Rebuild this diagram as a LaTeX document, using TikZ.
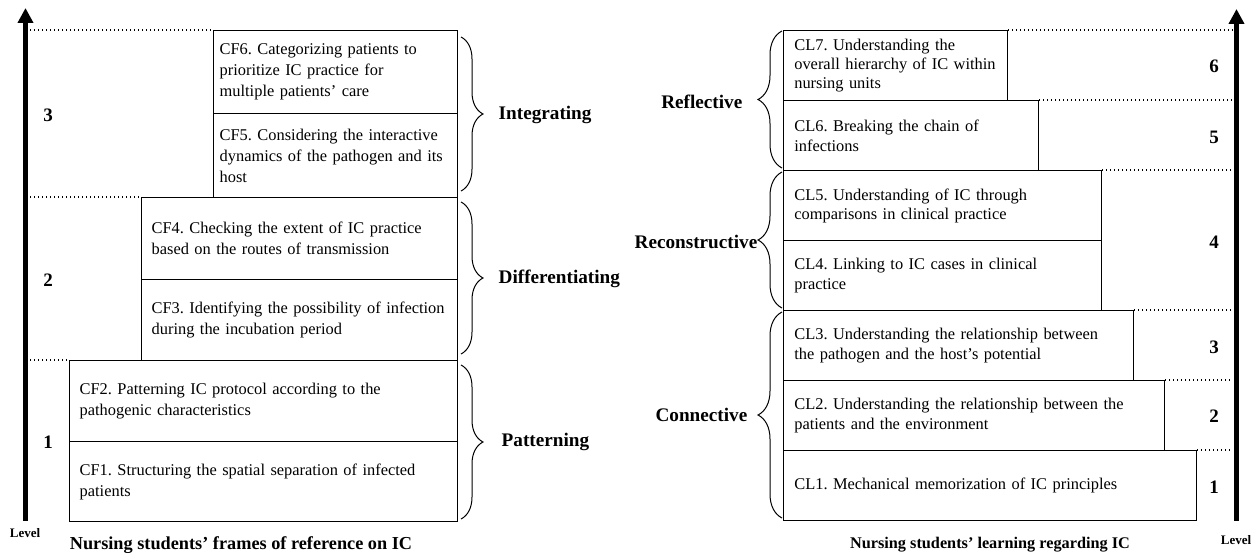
\documentclass[tikz,border=0pt]{standalone}
\usepackage{fontspec}
\setmainfont{Liberation Serif}
\usetikzlibrary{arrows.meta,decorations.pathreplacing}
\frenchspacing
\hyphenpenalty=10000
\begin{document}
\begin{tikzpicture}[x=0.75pt,y=-0.75pt,
  box/.style={draw,line width=1pt,anchor=north west,align=left,inner ysep=0pt,
    font=\fontsize{12.3}{15.8}\selectfont},
  boxR/.style={box,inner xsep=8pt,font=\fontsize{12.3}{14.5}\selectfont},
  lvl/.style={font=\fontsize{14.25}{16}\selectfont\bfseries},
  stage/.style={font=\fontsize{14.4}{16}\selectfont\bfseries},
  ttl/.style={font=\fontsize{13.7}{16}\selectfont\bfseries},
  lvlword/.style={font=\fontsize{9.75}{11}\selectfont\bfseries},
  dotline/.style={line width=0.8pt,dash pattern=on 0.8pt off 2.2pt},
  brc/.style={decorate,decoration={brace,amplitude=16.5pt},line width=0.75pt},
  brcR/.style={decorate,decoration={brace,amplitude=18pt},line width=0.75pt},
  levelarrow/.style={line width=3.75pt,-{Triangle[width=11.25pt,length=11.25pt]}},
]
\useasboundingbox (0,0) rectangle (1260,555);

% ---------------- left part ----------------
\coordinate (aLb) at (25.5,521);
\coordinate (aLt) at (25.5,8);
\coordinate (dL) at (30,0);
\draw[levelarrow] (aLb) -- (aLt);
\node[lvlword] (levL) at (25,533) {Level};

\node[box,inner xsep=4.5pt,minimum width=183pt,minimum height=62.25pt,text width=174pt] (cf6) at (213,30)
  {\mbox{CF6. Categorizing patients to}\\\mbox{prioritize IC practice for}\\\mbox{multiple patients’ care}};
\node[box,inner xsep=4.5pt,minimum width=183pt,minimum height=63pt,text width=174pt] (cf5) at (213,113)
  {\mbox{CF5. Considering the interactive}\\\mbox{dynamics of the pathogen and its}\\host};
\node[box,inner xsep=7.5pt,minimum width=237pt,minimum height=61.5pt,text width=222pt] (cf4) at (141,197)
  {\mbox{CF4. Checking the extent of IC practice}\\\mbox{based on the routes of transmission}};
\node[box,inner xsep=7.5pt,minimum width=237pt,minimum height=60.75pt,text width=222pt] (cf3) at (141,279)
  {\mbox{CF3. Identifying the possibility of infection}\\\mbox{during the incubation period}};
\node[box,inner xsep=7.5pt,minimum width=291pt,minimum height=60.75pt,text width=276pt] (cf2) at (69,360)
  {\mbox{CF2. Patterning IC protocol according to the}\\\mbox{pathogenic characteristics}};
\node[box,inner xsep=7.5pt,minimum width=291pt,minimum height=60pt,text width=276pt] (cf1) at (69,441)
  {\mbox{CF1. Structuring the spatial separation of infected}\\patients};

\draw[dotline] (cf6.north west -| dL) -- (cf6.north west);
\draw[dotline] (cf4.north west -| dL) -- (cf4.north west);
\draw[dotline] (cf2.north west -| dL) -- (cf2.north west);

\node[lvl] (l3) at (48,115) {3};
\node[lvl] (l2) at (48,280) {2};
\node[lvl] (l1) at (48,442) {1};

\draw[brc] (461,37) -- (461,191);
\draw[brc] (461,202) -- (461,354);
\draw[brc] (461,365) -- (461,519);
\node[stage,anchor=west] (integ) at (494,115) {Integrating};
\node[stage,anchor=west] (diff) at (494,279) {Differentiating};
\node[stage,anchor=west] (patt) at (497,442) {Patterning};

\node[ttl] (ttlL) at (241,545) {Nursing students’ frames of reference on IC};

% ---------------- right part ----------------
\coordinate (aRb) at (1236.5,521);
\coordinate (aRt) at (1236.5,9);
\coordinate (dR) at (1233,0);
\draw[levelarrow] (aRb) -- (aRt);
\node[lvlword] (levR) at (1236,540) {Level};

\node[boxR,minimum width=168pt,minimum height=52.5pt,text width=152pt] (cl7) at (783,30)
  {\mbox{CL7. Understanding the}\\\mbox{overall hierarchy of IC within}\\\mbox{nursing units}};
\node[boxR,minimum width=191.25pt,minimum height=52.5pt,text width=175.25pt] (cl6) at (783,100)
  {\mbox{CL6. Breaking the chain of}\\infections};
\node[boxR,minimum width=238.5pt,minimum height=52.5pt,text width=222.5pt] (cl5) at (783,170)
  {\mbox{CL5. Understanding of IC through}\\\mbox{comparisons in clinical practice}};
\node[boxR,minimum width=238.5pt,minimum height=52.5pt,text width=222.5pt] (cl4) at (783,240)
  {\mbox{CL4. Linking to IC cases in clinical}\\practice};
\node[boxR,minimum width=262.5pt,minimum height=52.5pt,text width=246.5pt] (cl3) at (783,310)
  {\mbox{CL3. Understanding the relationship between}\\\mbox{the pathogen and the host’s potential}};
\node[boxR,minimum width=285.75pt,minimum height=52.5pt,text width=269.75pt] (cl2) at (783,380)
  {\mbox{CL2. Understanding the relationship between the}\\\mbox{patients and the environment}};
\node[boxR,minimum width=309.75pt,minimum height=52.5pt,text width=293.75pt] (cl1) at (783,450)
  {\mbox{CL1. Mechanical memorization of IC principles}};

\draw[dotline] (cl7.north east) -- (cl7.north east -| dR);
\draw[dotline] (cl6.north east) -- (cl6.north east -| dR);
\draw[dotline] (cl5.north east) -- (cl5.north east -| dR);
\draw[dotline] (cl3.north east) -- (cl3.north east -| dR);
\draw[dotline] (cl2.north east) -- (cl2.north east -| dR);
\draw[dotline] (cl1.north east) -- (cl1.north east -| dR);

\node[lvl] (r6) at (1214,66) {6};
\node[lvl] (r5) at (1214,137) {5};
\node[lvl] (r4) at (1214,242) {4};
\node[lvl] (r3) at (1214,347) {3};
\node[lvl] (r2) at (1214,416) {2};
\node[lvl] (r1) at (1214,487) {1};

\draw[brcR] (782,168) -- (782,31);
\draw[brcR] (782,308) -- (782,172);
\draw[brcR] (782,518) -- (782,312);
\node[stage,anchor=east] (refl) at (747,102) {Reflective};
\node[stage,anchor=east] (recon) at (762,242) {Reconstructive};
\node[stage,anchor=east] (conn) at (752,415) {Connective};

\node[ttl,font=\fontsize{12.2}{14}\selectfont\bfseries] (ttlR) at (990,545) {Nursing students’ learning regarding IC};
\end{tikzpicture}
\end{document}
